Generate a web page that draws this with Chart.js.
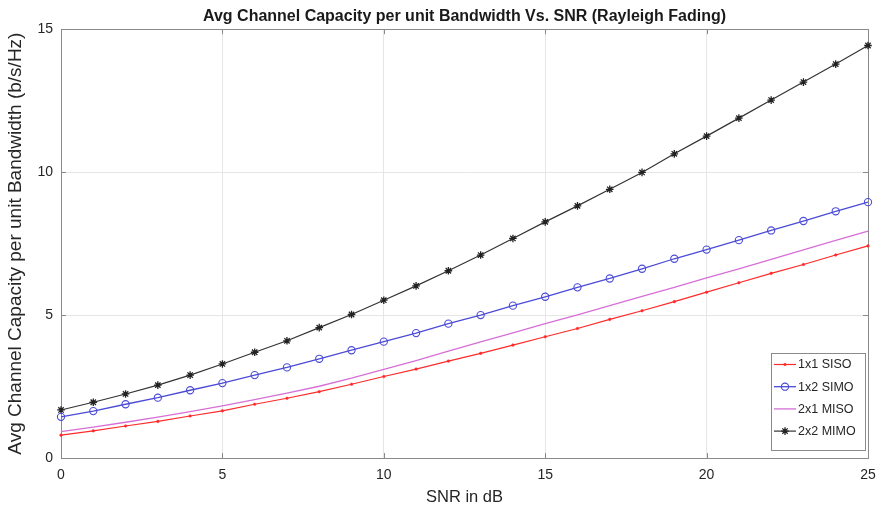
<!DOCTYPE html>
<html>
<head>
<meta charset="utf-8">
<script src="https://cdn.jsdelivr.net/npm/chart.js@4/dist/chart.umd.min.js"></script>
<style>
  html, body { margin: 0; padding: 0; background: #ffffff; }
  canvas { display: block; }
</style>
</head>
<body>
<canvas id="c" width="882" height="511"></canvas>
<script>
// ---- data ----
const snrDb = [0,1,2,3,4,5,6,7,8,9,10,11,12,13,14,15,16,17,18,19,20,21,22,23,24,25];
const siso = [0.80,0.95,1.12,1.28,1.47,1.65,1.88,2.09,2.32,2.58,2.85,3.11,3.39,3.66,3.95,4.24,4.53,4.85,5.15,5.47,5.80,6.13,6.46,6.77,7.10,7.42];
const simo = [1.44,1.64,1.88,2.11,2.37,2.62,2.90,3.17,3.47,3.77,4.07,4.37,4.70,5.00,5.33,5.64,5.97,6.28,6.62,6.97,7.29,7.62,7.96,8.29,8.63,8.95];
const miso = [0.92,1.08,1.25,1.43,1.62,1.82,2.04,2.27,2.51,2.79,3.10,3.41,3.74,4.06,4.38,4.70,5.01,5.33,5.65,5.97,6.30,6.62,6.95,7.28,7.61,7.94];
const mimo = [1.68,1.95,2.24,2.55,2.90,3.29,3.70,4.10,4.56,5.02,5.52,6.02,6.55,7.10,7.68,8.26,8.82,9.40,9.99,10.64,11.26,11.89,12.52,13.15,13.78,14.43];
const seriesNames = ['1x1 SISO','1x2 SIMO','2x1 MISO','2x2 MIMO'];
const xTicks = [0,5,10,15,20,25];
const yTicks = [0,5,10,15];
const titleText = 'Avg Channel Capacity per unit Bandwidth Vs. SNR (Rayleigh Fading)';
const xTitle = 'SNR in dB';
const yTitle = 'Avg Channel Capacity per unit Bandwidth (b/s/Hz)';

const FONT = "'Liberation Sans', Arial, Helvetica, sans-serif";
const pts = arr => snrDb.map((x, i) => ({x: x, y: arr[i]}));

const bgPlugin = {
  id: 'bg',
  beforeDraw(chart) {
    const c = chart.ctx;
    c.save(); c.fillStyle = '#ffffff'; c.fillRect(0, 0, chart.width, chart.height); c.restore();
  }
};

const framePlugin = {
  id: 'frame',
  beforeDatasetsDraw(chart) {
    const c = chart.ctx, a = chart.chartArea;
    const xs = chart.scales.x, ys = chart.scales.y;
    c.save();
    c.strokeStyle = '#8a8a8a';
    c.lineWidth = 1;
    c.strokeRect(Math.round(a.left) + 0.5, Math.round(a.top) + 0.5, Math.round(a.right - a.left), Math.round(a.bottom - a.top));
    const L = 5;
    c.beginPath();
    xTicks.forEach(v => {
      const px = Math.round(xs.getPixelForValue(v)) + 0.5;
      c.moveTo(px, a.bottom); c.lineTo(px, a.bottom - L);
      c.moveTo(px, a.top); c.lineTo(px, a.top + L);
    });
    yTicks.forEach(v => {
      const py = Math.round(ys.getPixelForValue(v)) + 0.5;
      c.moveTo(a.left, py); c.lineTo(a.left + L, py);
      c.moveTo(a.right, py); c.lineTo(a.right - L, py);
    });
    c.stroke();
    c.restore();
  }
};

const legendPlugin = {
  id: 'boxLegend',
  afterDraw(chart) {
    const c = chart.ctx, a = chart.chartArea;
    const w = 94, h = 97;
    const right = a.right - 3, bottom = a.bottom - 8;
    const left = right - w, top = bottom - h;
    c.save();
    c.fillStyle = '#ffffff';
    c.fillRect(left, top, w, h);
    c.strokeStyle = '#8a8a8a';
    c.lineWidth = 1;
    c.strokeRect(Math.round(left) + 0.5, Math.round(top) + 0.5, w, h);
    const rowH = 22.2;
    chart.data.datasets.forEach((ds, i) => {
      const cy = top + 11.5 + i * rowH;
      const x0 = left + 3, x1 = left + 25, xm = (x0 + x1) / 2;
      c.strokeStyle = ds.borderColor;
      c.lineWidth = ds.borderWidth;
      c.beginPath(); c.moveTo(x0, cy); c.lineTo(x1, cy); c.stroke();
      if (ds.pointRadius > 0) {
        c.fillStyle = ds.pointBackgroundColor;
        c.strokeStyle = ds.pointBorderColor;
        c.lineWidth = ds.pointBorderWidth;
        Chart.helpers.drawPoint(c, {
          pointStyle: ds.pointStyle,
          radius: ds.pointRadius,
          borderWidth: ds.pointBorderWidth
        }, xm, cy);
      }
      c.fillStyle = '#262626';
      c.font = '12.5px ' + FONT;
      c.textAlign = 'left';
      c.textBaseline = 'middle';
      c.fillText(ds.label, left + 27, cy + 0.5);
    });
    c.restore();
  }
};

const ctx = document.getElementById('c').getContext('2d');
new Chart(ctx, {
  type: 'line',
  data: {
    datasets: [
      { label: seriesNames[0], data: pts(siso), borderColor: '#ff2a2a', borderWidth: 1.2, clip: false,
        pointStyle: 'circle', pointRadius: 1.3, pointBackgroundColor: '#ff2a2a', pointBorderColor: '#ff2a2a', pointBorderWidth: 0.5 },
      { label: seriesNames[1], data: pts(simo), borderColor: '#4b4bd6', borderWidth: 1.3, clip: false,
        pointStyle: 'circle', pointRadius: 3.6, pointBackgroundColor: 'rgba(255,255,255,0)', pointBorderColor: '#4b4bd6', pointBorderWidth: 1.1 },
      { label: seriesNames[2], data: pts(miso), borderColor: '#d66fd6', borderWidth: 1.3, clip: false,
        pointRadius: 0, pointStyle: 'circle', pointBackgroundColor: '#d66fd6', pointBorderColor: '#d66fd6', pointBorderWidth: 0 },
      { label: seriesNames[3], data: pts(mimo), borderColor: '#333333', borderWidth: 1.2, clip: false,
        pointStyle: 'star', pointRadius: 3.8, pointBackgroundColor: '#222222', pointBorderColor: '#222222', pointBorderWidth: 1.3 }
    ]
  },
  options: {
    responsive: false,
    animation: false,
    devicePixelRatio: 1,
    layout: { padding: { left: 0, right: 14, top: 0, bottom: 0 } },
    elements: { line: { tension: 0 } },
    plugins: {
      legend: { display: false },
      tooltip: { enabled: false },
      title: {
        display: true,
        fullSize: false,
        text: titleText,
        color: '#1a1a1a',
        font: { family: FONT, size: 16, weight: 'bold' },
        padding: { top: 7, bottom: 3 }
      }
    },
    scales: {
      x: {
        type: 'linear',
        min: 0, max: 25,
        afterFit(scale) { scale.height = 53; scale.paddingRight = 0; scale.paddingLeft = 0; },
        afterBuildTicks(scale) { scale.ticks = xTicks.map(v => ({ value: v })); },
        ticks: { color: '#262626', font: { family: FONT, size: 14 }, padding: 9, maxRotation: 0 },
        grid: { color: '#e6e6e6', lineWidth: 1, drawTicks: false },
        border: { display: false },
        title: { display: true, text: xTitle, color: '#262626', font: { family: FONT, size: 16.5 }, padding: { top: 0, bottom: 4 } }
      },
      y: {
        type: 'linear',
        min: 0, max: 15,
        afterFit(scale) { scale.width = 61; },
        afterBuildTicks(scale) { scale.ticks = yTicks.map(v => ({ value: v })); },
        ticks: { color: '#262626', font: { family: FONT, size: 14 }, padding: 8 },
        grid: { color: '#e6e6e6', lineWidth: 1, drawTicks: false },
        border: { display: false },
        title: { display: true, text: yTitle, color: '#262626', font: { family: FONT, size: 19 }, padding: { top: 4, bottom: 0 } }
      }
    }
  },
  plugins: [bgPlugin, framePlugin, legendPlugin]
});
</script>
</body>
</html>
